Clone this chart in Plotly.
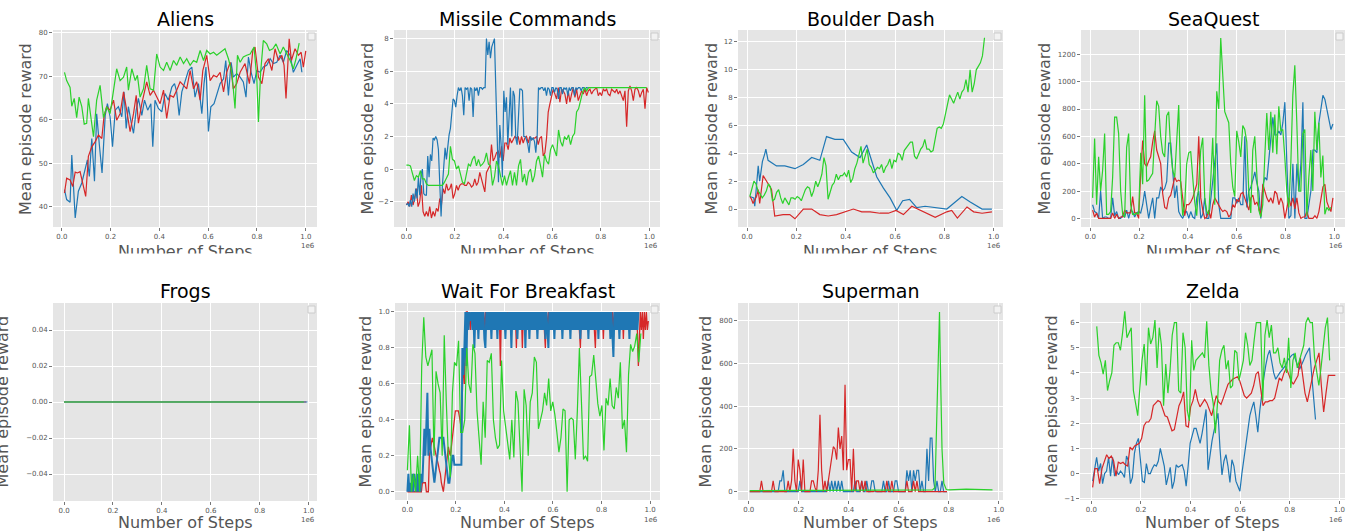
import numpy as np
import plotly.graph_objects as go

# ===================== DATA (x in thousands / millions of steps) =====================
# ---- Aliens (x in thousands of steps)
aliens_green_k = [11,20,34,41,51,61,71,82,92,102,109,119,130,143,157,171,184,198,212,225,239,253,266,273,287,301,310,321,335,348,362,376,389,403,417,430,444,458,471,485,499,512,526,540,553,567,581,594,608,622,635,649,669,683,697,710,720,731,744,758,772,788,799,806,815,826,840,851,865,878,895,908,922,936,949,960,973]
aliens_green = [70.9,69,67.4,63.1,64.9,60.5,65.2,63,59,59.2,64.9,60.7,56.1,64.5,67.9,60.5,63,61.4,66.8,71.7,69,69.8,72.1,66.8,71.7,69,70.2,65.2,67.1,72.5,67.1,66.8,75.1,72.1,71.3,73.2,71.3,73.6,72.5,74.4,72.9,74,72.5,73.6,73.2,75.9,73.6,75.9,75.1,75.5,74.8,75.5,76.3,74,70.9,62.6,74.8,73.2,74.4,74.8,75.1,76.7,69.8,59.5,70.9,78.2,77.4,75.9,76.3,77.4,75.1,76.7,75.1,73.6,71.7,74,77.6]
aliens_red_k = [11,20,34,45,55,64,75,89,98,109,123,137,150,164,173,184,198,212,225,239,253,266,280,294,305,314,328,348,362,376,389,403,417,430,444,458,471,485,499,512,526,540,553,567,578,594,608,622,635,649,663,676,690,703,717,731,751,769,783,792,806,820,833,847,861,874,888,902,911,919,932,941,956,970,981,990,1000]
aliens_red = [43.2,46.6,46.2,44.7,48,47.8,48.1,44.7,42.4,51.6,53.8,55,56.5,55.7,60.7,63,62.2,64.5,59.9,61.4,66.4,62.2,57.3,61.4,65.6,59.2,63.7,68.7,65.6,66.8,65.2,63.7,66.8,60.3,65.6,65.2,66.8,68.7,67.9,67.1,71.3,67.1,68.7,64.5,71.3,74.8,69,70.2,69.8,70.9,66.4,70.9,73.2,67.1,68.3,70.9,72.9,68.3,75.9,76.7,69.8,68.3,72.9,74,71.3,76.3,73.6,74.8,72.5,64.9,78.6,73.6,76.3,74.8,75.5,72.1,75.8]
aliens_blue_k = [11,20,34,41,55,68,82,96,105,113,123,134,143,154,165,178,187,198,208,219,232,246,255,264,273,284,294,305,314,328,339,352,365,373,382,396,410,423,437,451,462,471,481,492,505,519,533,546,560,574,583,591,601,611,624,635,649,663,672,683,694,703,717,731,744,755,765,776,788,799,813,826,840,854,867,881,895,908,922,936,949,963,977,984]
aliens_blue = [44,41.7,41.1,51.9,37.5,43.6,45.5,48.5,50.8,47,55.7,45.9,61.4,54.2,47.8,61,63.7,60.7,53.8,62.2,63,60.7,66.4,58,63,59.5,56.9,62.2,64.9,61,64.5,62.2,63.7,53.8,64.5,62.6,61.8,66,64.5,67.5,68.3,66.4,61,66.4,69,71.3,72.1,65.2,68.3,61.4,68.3,72.1,57.3,63,63.7,66,68.3,69.4,73.6,65.6,73.2,69.8,70.6,69.8,68.7,65.2,74.4,70.9,68.3,71.3,70.9,72.1,72.5,74,72.9,73.2,74.8,73.2,75.9,74.8,70.9,72.5,74,70.9]

# ---- Missile Commands (regularly logged; first/last step in millions)
missile_blue_span = (0.0, 0.747)
missile_blue = [-2.2,-2.1,-2.3,-1.9,-2.3,-1.5,-2.0,-1.2,-1.8,-0.5,
                -1.6,-0.3,0.0,-1.5,-1.6,-1.6,0.8,-0.5,0.9,0.5,
                1.9,1.8,2.0,1.8,1.2,-0.6,-2.9,-1.0,0.5,1.3,
                0.6,1.5,2.1,2.5,3.5,4.3,4.2,3.8,4.5,5.0,
                4.8,5.0,4.5,3.3,5.0,4.9,5.0,4.2,5.0,4.9,
                3.2,5.0,4.8,5.0,4.5,5.0,5.0,4.9,5.0,5.0,
                8.0,7.0,7.8,6.8,7.5,7.8,8.0,5.0,1.0,-0.8,
                2.7,1.5,-0.5,4.8,3.5,4.4,1.5,3.0,5.0,2.0,
                4.8,4.5,1.9,1.5,3.0,4.9,4.9,4.8,2.0,2.0,
                1.8,1.5,1.0,2.0,1.8,1.9,1.7,1.0,2.0,5.0,
                4.9,5.0,5.0,4.8,5.0,4.5,5.0,4.9,4.5,5.0,
                5.0,4.7,5.0,4.9,4.3,5.0,5.0,4.6,5.0,4.9,
                5.0,4.5,5.0,4.8,5.0,5.0,4.5,5.0,4.9,5.0,
                5.0,4.8,5.0,5.0,4.9,5.0,5.0]
missile_red_span = (0.0, 0.996)
missile_red = [-2.2,-2.0,-2.3,-1.6,-2.2,-1.8,-1.2,-2.3,-2.0,-1.0,
               -2.6,-2.9,-2.6,-2.9,-2.3,-3.0,-2.6,-2.9,-2.4,-2.6,
               -1.8,-2.2,-1.2,-1.5,-0.9,-1.3,-1.2,-0.9,-1.8,-1.5,
               -1.0,-1.3,-1.0,-0.9,-0.9,-1.0,-1.0,-0.8,-0.9,-1.1,
               -1.0,-0.6,-1.0,-0.8,-0.2,-0.6,-0.9,-1.4,-0.2,0.0,
               0.2,1.5,0.5,0.7,1.0,1.1,0.7,1.4,0.5,1.6,
               1.6,1.2,1.9,1.6,1.8,2.0,1.9,2.0,1.5,2.0,
               1.6,1.9,2.0,1.6,2.0,1.8,1.9,1.9,2.0,1.5,
               1.9,2.0,0.8,1.0,1.9,3.5,4.0,4.5,4.9,4.6,
               4.3,5.0,4.1,4.9,4.8,4.6,4.0,4.8,4.1,4.6,
               5.0,4.4,4.9,4.2,4.5,4.8,4.6,4.9,4.5,4.8,
               4.9,4.6,4.8,4.9,5.0,4.5,4.7,4.5,4.9,4.8,
               4.9,4.6,4.5,4.9,4.8,4.7,4.9,4.6,4.8,4.5,
               4.2,4.8,2.6,4.8,5.1,4.8,4.2,4.9,5.0,4.8,
               4.4,4.7,4.9,3.7,5.0,4.7]
missile_green_span = (0.0, 0.989)
missile_green = [0.25,0.25,0.2,-0.3,-0.7,-0.4,-0.5,-0.1,-0.6,-0.6,
                 -0.9,-1.0,-1.0,-1.0,-1.0,-1.0,-1.0,-1.0,-1.0,-0.8,
                 -0.5,-0.3,1.4,0.6,0.5,0.0,0.2,-0.3,-0.8,-0.9,
                 -0.2,0.3,0.2,0.6,0.8,0.2,0.6,0.2,0.3,0.5,
                 1.0,0.3,0.2,-1.0,-0.5,0.5,0.2,-0.5,-1.0,-0.4,
                 -1.0,-0.5,-0.1,-1.0,-0.2,-1.0,0.2,0.6,-0.8,-0.3,
                 -1.0,-0.2,0.0,-0.8,-0.4,0.5,0.8,0.2,-0.5,0.9,
                 0.5,0.3,1.2,1.5,1.2,0.8,2.4,1.7,1.4,2.0,
                 1.8,2.1,1.5,2.0,2.2,3.5,3.7,4.2,4.7,5.0,
                 4.8,5.0,5.0,5.0,5.0,5.0,5.0,5.0,5.0,5.0,
                 5.0,5.0,5.0,5.0,5.0,5.0,5.0,5.0,5.0,5.0,
                 5.0,5.0,5.0,5.0,5.0,5.0,5.0,5.0,5.0,5.0,5.0]

# ---- Boulder Dash
boulder_green_span = (0.011, 0.963)
boulder_green = [0.9,1.5,2.0,1.8,1.3,1.1,0.8,1.0,1.3,1.8,
                 1.6,0.6,0.7,1.2,1.4,0.8,0.4,0.8,0.5,0.3,
                 0.8,0.8,0.7,0.9,0.8,0.6,1.0,1.4,1.6,1.5,
                 0.9,1.3,2.0,1.6,2.0,2.5,3.7,3.1,0.7,1.3,
                 1.7,1.9,2.5,2.1,2.4,2.4,2.6,2.3,2.8,1.9,
                 2.2,2.9,3.3,3.9,4.5,3.3,3.9,4.3,3.2,3.0,
                 2.6,2.8,3.0,2.9,3.2,2.6,3.0,3.2,3.6,2.9,
                 3.5,3.4,4.0,3.9,3.5,4.2,4.4,4.6,4.8,4.8,
                 3.8,3.6,4.0,4.3,4.5,5.0,4.3,4.3,4.1,4.2,
                 5.0,5.8,5.9,5.8,6.1,6.8,7.5,8.2,7.9,7.6,
                 8.0,8.4,7.9,8.4,8.6,9.3,8.4,10.0,8.4,9.0,
                 10.0,10.3,10.5,11.0,12.3]
boulder_blue_x = [0.011,0.022,0.027,0.031,0.038,0.045,0.051,0.062,0.072,0.076,0.085,0.119,0.153,0.194,0.228,0.262,0.295,0.322,0.356,0.390,0.424,0.458,0.485,0.505,0.526,0.553,0.580,0.607,0.631,0.659,0.688,0.722,0.763,0.810,0.837,0.871,0.905,0.953,0.993]
boulder_blue = [0.9,0.8,0.8,0.2,1.5,3.1,2.0,3.4,4.0,4.3,3.5,3.1,3.1,2.9,3.2,3.7,3.5,5.2,5.0,5.0,4.1,3.7,4.6,3.5,2.3,1.5,0.8,-0.1,0.6,0.7,0.1,0.2,0.1,0.0,0.4,0.9,0.5,0.0,0.0]
boulder_red_x = [0.011,0.018,0.024,0.031,0.038,0.045,0.051,0.058,0.065,0.079,0.099,0.112,0.146,0.173,0.194,0.228,0.262,0.295,0.329,0.363,0.397,0.431,0.465,0.499,0.539,0.573,0.604,0.634,0.668,0.702,0.736,0.763,0.810,0.830,0.853,0.892,0.919,0.953,0.993]
boulder_red = [0.9,0.7,0.4,0.6,0.9,1.4,0.4,1.4,2.4,2.0,1.4,-0.5,-0.4,-0.4,-0.7,0.0,0.0,-0.4,-0.5,-0.4,-0.2,0.0,-0.2,-0.2,-0.3,-0.3,-0.1,-0.4,0.2,-0.1,-0.35,-0.6,-0.2,-0.1,-0.65,0.15,-0.2,-0.3,-0.2]

# ---- SeaQuest
seaquest_green_span = (0.0096, 0.986)
seaquest_green = [150,585,100,450,200,350,620,30,30,50,
                  300,740,740,620,200,30,10,520,620,100,
                  30,30,40,30,480,250,900,270,280,310,
                  330,600,860,820,600,480,450,750,780,500,
                  350,300,600,830,250,20,100,400,480,490,
                  300,120,20,300,500,590,150,50,30,280,
                  590,100,930,800,1320,1050,780,740,700,400,
                  230,160,640,560,450,680,650,560,200,40,
                  500,600,320,60,10,100,450,770,500,780,
                  480,760,470,820,640,650,450,200,80,400,
                  900,1120,700,200,200,620,650,20,300,500,
                  200,780,500,700,300,460,30,80,60,80]
seaquest_blue_span = (0.0096, 0.9945)
seaquest_blue = [100,50,40,0,200,0,10,10,0,0,
                 150,20,50,0,0,20,10,60,0,60,
                 50,10,40,50,40,100,200,100,0,80,
                 150,0,150,150,230,200,220,270,550,550,
                 380,150,240,50,20,0,40,50,0,50,
                 10,0,150,200,0,30,150,0,0,150,
                 280,400,550,100,0,0,0,0,0,0,
                 150,150,110,150,100,100,600,80,200,230,
                 280,340,260,200,0,240,300,280,430,600,
                 740,610,610,640,610,700,850,400,0,20,
                 400,0,400,200,400,850,0,0,100,200,
                 500,500,480,700,800,900,870,800,720,650,
                 690]
seaquest_red_span = (0.0096, 0.9945)
seaquest_red = [60,10,40,0,0,0,0,0,0,0,
                40,0,30,0,10,10,60,40,40,40,
                160,40,40,0,330,570,400,380,420,450,
                560,640,500,450,400,180,80,70,150,170,
                240,300,270,280,270,150,20,100,100,120,
                150,200,250,600,150,60,0,10,60,0,
                100,150,120,100,70,50,60,50,10,30,
                100,80,140,120,180,190,150,110,60,150,
                170,100,120,80,20,250,200,150,120,150,
                110,200,180,100,150,110,0,70,150,90,
                150,70,150,40,0,10,10,50,0,0,
                0,20,0,50,150,230,250,120,80,50,
                150]

# ---- Frogs
frogs_red_x, frogs_red = [0.0, 0.99], [0.0, 0.0]
frogs_blue_x, frogs_blue = [0.0, 0.995], [0.0, 0.0]
frogs_green_x, frogs_green = [0.0, 0.98], [0.0, 0.0]

# ---- Wait For Breakfast
wfb_red_span = (0.0, 0.993)
wfb_red = [0,0,0,0,0,0,0,0,0,0,
           0,0,0,0,0,0.05,0.05,0.05,0.05,0,
           0,0,0.2,0.25,0.27,0.3,0.28,0.25,0.22,0.2,
           0.17,0.15,0.12,0.1,0.05,0.02,0,0.05,0.1,0.15,
           0.2,0.25,0.22,0.2,0.25,0.3,0.35,0.4,0.45,0.45,
           0.45,0.45,0.42,0.38,0.35,0.55,0.75,0.6,0.85,1.0,
           1,.9,1,.9,1,.95,1,.9,1,.9,1,.9,1,.95,1,.9,1,.9,1,.9,
           1,.9,1,.9,1,.9,1,.95,1,.9,1,.9,1,.7,1,.9,1,.9,1,.95,
           1,.9,1,.9,1,.9,1,.9,1,.8,1,.9,1,.9,1,.8,1,.9,1,.9,
           1,.9,1,.95,1,.9,1,.9,1,.9,1,.9,1,.9,1,.9,1,.9,.8,1,
           .9,1,.9,1,.9,1,.95,1,.9,1,.9,1,.9,1,.9,1,.9,1,.9,1,
           .9,1,.9,1,.95,1,.9,1,.9,1,.9,1,.9,.8,1,.9,1,.9,1,.9,
           1,.9,1,.9,1,.9,1,.9,.8,1,.9,1,.9,1,.9,1,.85,1,.9,1,
           .9,1,.9,1,.9,1,.9,1,.9,1,.9,1,.9,1,.9,1,.85,1,.9,1,
           .9,1,.9,1,.9,1,.9,1,.9,1,.9,.7,.85,1,.9,1,.85,1,.9,1,.9,.95]
wfb_blue_span = (0.0, 0.952)
wfb_blue = [0.0,0.1,0.0,0.05,0.0,0.1,0.0,0.1,0.05,0.0,
            0.1,0.0,0.1,0.0,0.1,0.05,0.2,0.35,0.2,0.35,
            0.55,0.2,0.35,0.25,0.2,0.15,0.1,0.05,0.1,0.15,
            0.2,0.25,0.3,0.3,0.3,0.3,0.3,0.25,0.2,0.15,
            0.1,0.05,0.05,0.1,0.15,0.2,0.2,0.15,0.15,0.15,
            0.15,0.15,0.15,0.15,0.15,0.8,0.65,0.8,1.0,0.7,
            1,.9,1,.95,1,.9,1,.8,1,.9,1,.85,1,.9,1,.9,1,.85,.8,1,
            .9,1,.9,1,.85,1,.9,1,.9,1,.85,1,.9,1,.9,1,.9,1,.85,1,
            .9,1,.9,1,.8,1,.9,1,.9,1,.85,1,.9,1,.9,1,.9,1,.8,1,
            .9,1,.85,1,.9,1,.9,1,.9,1,.85,1,.9,1,.9,1,.9,1,.85,1,
            .9,.8,1,.9,1,.9,1,.85,1,.9,1,.9,1,.9,1,.85,1,.9,1,.9,
            1,.9,1,.85,1,.9,1,.9,1,.9,1,.9,1,.85,1,.9,1,.9,1,.9,
            1,.85,1,.9,1,.9,1,.9,1,.9,1,.85,1,.9,1,.9,1,.9,1,.9,
            1,.9,1,.85,1,.9,.75,1,.9,1,.9,1,.85,1,.9,1,.9,1,.9,1,
            .9,1,.85,1,.9,1,.9,1,.9,1,.9,1]
wfb_green_span = (0.0, 0.962)
wfb_green = [0.12,0.37,0.0,0.1,0.0,0.2,0.0,0.7,0.97,0.75,
             0.7,0.75,0.79,0.2,0.67,0.6,0.55,0.2,0.87,0.5,
             0.2,0.08,0.55,0.72,0.7,0.84,0.33,0.33,0.4,0.8,
             0.6,0.55,0.82,0.77,0.45,0.3,0.15,0.5,0.3,0.73,
             0.72,0.77,0.4,0.3,0.24,0.26,0.73,0.45,0.35,0.25,
             0.18,0.4,0.19,0.56,0.5,0.25,0.0,0.57,0.48,0.2,
             0.5,0.55,0.75,0.72,0.35,0.4,0.45,0.55,0.48,0.63,
             0.45,0.5,0.43,0.33,0.22,0.3,0.46,0.45,0.0,0.4,
             0.41,0.4,0.18,0.45,0.8,0.5,0.18,0.2,0.17,0.64,
             0.65,0.76,0.64,0.49,0.42,0.48,0.23,0.52,0.48,0.63,
             0.48,0.46,0.58,0.52,0.72,0.35,0.4,0.22,0.65,0.82,
             0.78,0.81,0.88,0.72,0.88]

# ---- Superman
superman_blue_span = (0.004, 0.793)
superman_blue = [0,0,0,0,0,0,0,0,0,0,
                 0,0,0,0,0,0,0,0,50,50,
                 100,0,0,0,0,0,0,0,0,0,
                 50,0,0,0,0,0,0,0,0,0,
                 0,0,0,0,0,0,0,50,0,50,
                 0,50,0,50,0,50,0,0,0,0,
                 0,0,0,50,0,0,0,50,0,0,
                 50,0,0,50,50,0,0,0,0,0,
                 50,0,0,50,0,0,0,50,50,0,
                 0,0,0,0,100,50,100,0,100,50,
                 100,100,0,50,0,0,200,50,250,250,
                 50,0,50,0,0,50,0,0,0]
superman_red_span = (0.004, 0.793)
superman_red = [0,0,0,0,0,0,0,50,0,0,
                0,0,0,0,50,0,0,0,0,0,
                0,0,0,50,0,50,200,50,0,150,
                100,0,150,0,0,0,0,50,50,20,
                0,100,360,100,0,50,0,50,100,150,
                210,200,150,300,200,260,100,500,100,150,
                150,0,200,0,50,50,0,50,0,50,
                0,0,0,0,0,5,0,0,0,0,
                0,0,50,0,0,50,0,0,0,0,
                0,0,0,0,50,0,0,0,50,0,
                50,0,0,0,0,0,0,0,0,0,
                0,0,0,0,0,0,0,0,0]
superman_green_x = [0.004,0.1,0.2,0.3,0.4,0.5,0.6,0.7,0.735,0.745,0.752,0.758,0.763,0.768,0.773,0.78,0.79,0.8,0.87,0.975]
superman_green = [5,7,6,6,6,5,6,6,8,20,300,650,840,500,200,40,10,8,12,8]

# ---- Zelda
zelda_blue_span = (0.005, 0.904)
zelda_blue = [-0.3,0.1,0.65,0.1,0.4,-0.4,0.0,0.1,0.65,-0.1,
              0.65,-0.1,0.1,-0.05,0.1,0.0,-0.15,0.7,0.5,-0.4,
              -0.15,0.8,1.2,1.4,0.6,-0.3,-0.35,0.4,0.0,0.0,
              0.2,0.35,0.3,0.5,1.0,0.7,0.3,-0.45,-0.15,0.25,
              -0.6,-0.3,0.35,0.25,0.3,0.35,
              0.1,-0.5,0.3,1.2,1.5,1.8,1.8,1.5,1.2,1.6,
              2.0,2.55,0.15,0.8,1.3,1.7,2.0,2.4,1.0,-0.05,
              0.5,0.75,0.3,-0.35,0.55,0.3,-0.3,-0.5,-0.7,0.0,
              0.6,1.2,1.8,2.3,2.6,2.85,2.3,1.65,2.5,3.2,
              3.8,4.3,4.7,4.9,4.4,4.0,3.75,3.9,4.0,4.1,
              4.2,4.3,4.5,4.6,4.7,4.75,4.5,4.3,4.15,4.3,
              4.5,4.7,4.85,5.0,4.0,3.0,2.15]
zelda_red_span = (0.005, 0.984)
zelda_red = [-0.55,0.2,0.2,-0.4,0.2,0.5,0.75,0.6,0.7,0.5,
             -0.1,0.45,0.4,0.45,0.35,0.3,1.05,0.95,1.1,1.15,
             1.2,1.4,1.9,2.05,2.05,2.2,2.7,2.8,2.9,2.85,
             2.6,2.3,2.25,2.0,1.7,1.75,2.2,2.7,2.9,3.25,
             1.9,1.85,2.65,2.9,3.35,2.9,2.65,2.8,2.95,2.8,
             2.5,2.3,2.7,3.1,2.85,2.75,3.0,3.3,3.55,3.65,
             3.75,3.8,3.85,3.7,3.4,3.1,3.0,3.1,3.2,3.5,
             3.95,4.05,3.4,2.7,2.85,2.85,2.9,2.9,3.0,3.4,
             3.8,3.7,4.0,4.2,3.9,3.7,3.55,3.75,3.9,4.6,
             3.8,3.2,2.85,3.3,3.8,4.2,4.5,4.8,3.5,2.45,
             3.2,3.9,3.9,3.9,3.9]
zelda_green_span = (0.0215, 0.961)
zelda_green = [5.85,4.7,4.4,3.95,4.5,3.3,3.7,4.0,5.1,5.2,
               5.2,4.9,5.6,6.45,5.4,5.6,5.8,3.3,2.8,2.3,
               3.4,4.5,5.15,3.5,5.8,5.15,5.4,6.1,4.2,5.8,
               5.1,2.7,4.35,3.2,4.1,5.5,6.0,6.0,3.3,3.2,
               5.6,5.0,2.5,2.1,5.3,4.1,4.5,4.6,4.7,4.8,
               4.6,6.05,4.3,3.3,2.8,1.6,2.8,4.5,4.9,5.1,
               4.15,4.5,3.4,3.5,4.9,4.8,3.7,4.1,4.5,5.6,
               5.1,4.3,4.5,5.3,6.0,6.0,6.0,2.9,5.5,6.1,
               5.4,5.9,4.8,4.8,5.0,4.4,4.2,4.6,4.0,5.4,
               3.4,4.5,4.8,4.2,4.5,4.8,5.1,6.0,6.2,6.0,
               6.0,4.6,4.1,3.5,4.2,5.0,5.8,6.2,4.5]

titles = ["Aliens", "Missile Commands", "Boulder Dash", "SeaQuest",
          "Frogs", "Wait For Breakfast", "Superman", "Zelda"]
x_tick_vals = [0.0, 0.2, 0.4, 0.6, 0.8, 1.0]
y_ticks = [
    [40, 50, 60, 70, 80],
    [-2, 0, 2, 4, 6, 8],
    [0, 2, 4, 6, 8, 10, 12],
    [0, 200, 400, 600, 800, 1000, 1200],
    [-0.04, -0.02, 0.0, 0.02, 0.04],
    [0.0, 0.2, 0.4, 0.6, 0.8, 1.0],
    [0, 200, 400, 600, 800],
    [-1, 0, 1, 2, 3, 4, 5, 6],
]
y_formats = ["d", "d", "d", "d", ".2f", ".1f", "d", "d"]

# ===================== STYLE / LAYOUT =====================
W, H = 1351, 531
BLUE, RED, GREEN = "#1f77b4", "#d62728", "#2bd12b"
FONT = "DejaVu Sans"
GRAY = "#555555"

# plot-area boxes in pixels: (left, right, top, bottom)
boxes = [(53, 317, 30, 227), (394, 660, 30, 227), (738, 1003, 30, 227), (1081, 1345, 30, 227),
         (53, 317, 303, 501), (395, 660, 303, 500), (738, 1003, 303, 500), (1080, 1345, 303, 500)]
x_ranges = [(-0.036, 1.046), (-0.051, 1.044), (-0.037, 1.038), (-0.038, 1.044),
            (-0.045, 1.034), (-0.051, 1.041), (-0.043, 1.017), (-0.046, 1.023)]
y_ranges = [(35.4, 80.6), (-3.55, 8.53), (-1.29, 12.86), (-63, 1378),
            (-0.055, 0.055), (-0.046, 1.05), (-39, 882), (-1.05, 6.78)]
ylabel_x = [25, 366.5, 710.5, 1043.5, 2, 365, 705, 1051.5]


def span(s, vals):
    return np.linspace(s[0], s[1], len(vals))


# (x, y, colour, line width)
series = [
    [(np.array(aliens_blue_k) / 1000, aliens_blue, BLUE, 1.2),
     (np.array(aliens_red_k) / 1000, aliens_red, RED, 1.2),
     (np.array(aliens_green_k) / 1000, aliens_green, GREEN, 1.2)],
    [(span(missile_red_span, missile_red), missile_red, RED, 1.2),
     (span(missile_blue_span, missile_blue), missile_blue, BLUE, 1.2),
     (span(missile_green_span, missile_green), missile_green, GREEN, 1.2)],
    [(boulder_blue_x, boulder_blue, BLUE, 1.2),
     (boulder_red_x, boulder_red, RED, 1.2),
     (span(boulder_green_span, boulder_green), boulder_green, GREEN, 1.2)],
    [(span(seaquest_blue_span, seaquest_blue), seaquest_blue, BLUE, 1.2),
     (span(seaquest_red_span, seaquest_red), seaquest_red, RED, 1.2),
     (span(seaquest_green_span, seaquest_green), seaquest_green, GREEN, 1.2)],
    [(frogs_red_x, frogs_red, RED, 1.2),
     (frogs_blue_x, frogs_blue, BLUE, 1.2),
     (frogs_green_x, frogs_green, GREEN, 1.2)],
    [(span(wfb_red_span, wfb_red), wfb_red, RED, 1.3),
     (span(wfb_blue_span, wfb_blue), wfb_blue, BLUE, 2.0),
     (span(wfb_green_span, wfb_green), wfb_green, GREEN, 1.2)],
    [(span(superman_blue_span, superman_blue), superman_blue, BLUE, 1.2),
     (span(superman_red_span, superman_red), superman_red, RED, 1.2),
     (superman_green_x, superman_green, GREEN, 1.2)],
    [(span(zelda_blue_span, zelda_blue), zelda_blue, BLUE, 1.2),
     (span(zelda_red_span, zelda_red), zelda_red, RED, 1.2),
     (span(zelda_green_span, zelda_green), zelda_green, GREEN, 1.2)],
]

fig = go.Figure()
layout = dict(
    width=W, height=H, template="none",
    margin=dict(l=0, r=0, t=0, b=0, pad=0),
    paper_bgcolor="white", plot_bgcolor="#E5E5E5",
    font=dict(family=FONT, color=GRAY), showlegend=False,
)
annotations, shapes = [], []


def px(xp):
    return xp / W


def py(yp):
    return 1 - yp / H


for i in range(8):
    n = i + 1
    sx = "" if n == 1 else str(n)
    L, R, T, B = boxes[i]
    for xs, ys, col, lw in series[i]:
        fig.add_trace(go.Scatter(x=list(xs), y=ys, mode="lines",
                                 line=dict(color=col, width=lw),
                                 xaxis="x" + sx, yaxis="y" + sx,
                                 hoverinfo="skip", showlegend=False))
    common = dict(showgrid=True, gridcolor="white", gridwidth=1, zeroline=False,
                  showline=False, ticks="outside", ticklen=3, tickwidth=0.8,
                  tickcolor=GRAY, tickfont=dict(size=7, color=GRAY, family=FONT),
                  automargin=False, fixedrange=True)
    layout["xaxis" + sx] = dict(common, domain=[px(L), px(R)], range=list(x_ranges[i]),
                                anchor="y" + sx, tickmode="array", tickvals=x_tick_vals,
                                tickformat=".1f")
    layout["yaxis" + sx] = dict(common, domain=[py(B), py(T)], range=list(y_ranges[i]),
                                anchor="x" + sx, tickmode="array", tickvals=y_ticks[i],
                                tickformat=y_formats[i])
    row1 = T < 100
    cx = (L + R) / 2
    # subplot title
    annotations.append(dict(text=titles[i], x=px(cx), y=py(18.5 if row1 else 290.5),
                            xref="paper", yref="paper", showarrow=False,
                            xanchor="center", yanchor="middle",
                            font=dict(size=19, color="black", family=FONT)))
    # y label
    annotations.append(dict(text="Mean episode reward", x=px(ylabel_x[i]),
                            y=py(129 if row1 else 401.5), xref="paper", yref="paper",
                            showarrow=False, textangle=-90, xanchor="center",
                            yanchor="middle", font=dict(size=16, color=GRAY, family=FONT)))
    # x label
    annotations.append(dict(text="Number of Steps", x=px(cx), y=py(251 if row1 else 522),
                            xref="paper", yref="paper", showarrow=False,
                            xanchor="center", yanchor="middle",
                            font=dict(size=16, color=GRAY, family=FONT)))
    # offset text
    annotations.append(dict(text="1e6", x=px(R), y=py(246 if row1 else 519.5),
                            xref="paper", yref="paper", showarrow=False,
                            xanchor="right", yanchor="middle",
                            font=dict(size=7, color=GRAY, family=FONT)))
    # empty legend box
    shapes.append(dict(type="rect", xref="paper", yref="paper",
                       x0=px(R - 9), x1=px(R - 2), y0=py(T + 10), y1=py(T + 3),
                       fillcolor="#f2f2f2", line=dict(color="#cccccc", width=1),
                       layer="above"))

# the first row of the original is cropped just under its x labels
annotations.append(dict(text=" ", x=0.5, y=py(268), xref="paper", yref="paper",
                        showarrow=False, xanchor="center", yanchor="middle",
                        width=W + 10, height=28, bgcolor="white", borderpad=0,
                        font=dict(size=4)))

layout["annotations"] = annotations
layout["shapes"] = shapes
fig.update_layout(**layout)
fig.write_html("out.html", include_plotlyjs=True,
               config={"displayModeBar": False, "staticPlot": True},
               post_script="document.body.style.margin='0';document.body.style.padding='0';")
